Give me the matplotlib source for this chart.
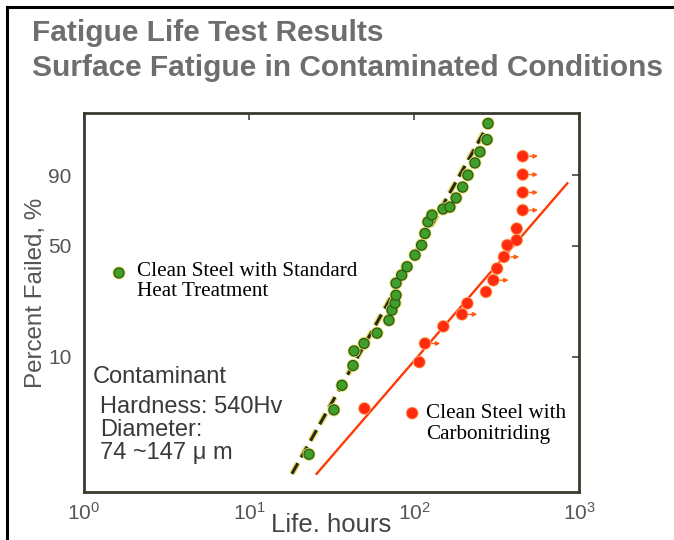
import numpy as np
import matplotlib
matplotlib.use("Agg")
import matplotlib.pyplot as plt
import matplotlib.patheffects as pe
from matplotlib.lines import Line2D

plt.rcParams['font.family'] = ['Liberation Sans', 'DejaVu Sans']
plt.rcParams['mathtext.fontset'] = 'custom'
plt.rcParams['mathtext.rm'] = 'Liberation Sans'
plt.rcParams['mathtext.it'] = 'Liberation Sans:italic'

# ---- data ----
title_lines = ["Fatigue Life Test Results", "Surface Fatigue in Contaminated Conditions"]

green_life = [23.1, 32.7, 36.6, 42.7, 43.3, 49.8, 59.7, 70.5, 73.5, 76.7, 77.8, 77.8,
              84.2, 90.7, 101.4, 111.1, 116.6, 121.6, 128.5, 150, 165, 180, 197, 212,
              234, 251, 277, 281]
green_pct = [2.0, 4.2, 6.3, 8.7, 11.0, 12.4, 14.6, 17.8, 20.8, 23.1, 25.9, 30.8,
             34.4, 38.5, 44.7, 50.4, 57.5, 64.7, 68.9, 72.6, 73.8, 79.0, 84.7, 90.0,
             94.1, 96.7, 98.5, 99.6]
green_fit_life = [18.2, 295.7]
green_fit_pct = [1.44, 99.76]

red_life = [50.1, 107.7, 150.6, 210.4, 273, 318.6, 367.6, 419, 419]
red_pct = [4.3, 9.2, 16.2, 23.0, 27.2, 37.6, 50.4, 53.4, 60.5]
red_susp_life = [116.6, 195.4, 302.6, 351, 456, 456, 456, 456]
red_susp_pct = [12.4, 19.5, 32.1, 43.7, 71.9, 82.0, 90.2, 95.8]
red_fit_life = [25.7, 849.5]
red_fit_pct = [1.44, 86.5]

y_ticks = [10, 50, 90]
x_ticks = [1, 10, 100, 1000]

legend_green = "Clean Steel with Standard\nHeat Treatment"
legend_red = "Clean Steel with\nCarbonitriding"
note_lines = ["Contaminant", "Hardness: 540Hv", "Diameter:", "74 ~147 \u03bc m"]

# ---- figure ----
fig = plt.figure(figsize=(6.74, 5.40), dpi=100)
fig.add_artist(Line2D([7/674, 7/674], [0, 1 - 7/540], color='black', lw=2.2, transform=fig.transFigure))
fig.add_artist(Line2D([7/674, 1], [1 - 7/540, 1 - 7/540], color='black', lw=2.2, transform=fig.transFigure))

ax = fig.add_axes([84/674, 1 - 492/540, 495/674, 379/540])


def fwd(p):
    p = np.clip(np.asarray(p, dtype=float), 1e-6, 100 - 1e-9)
    return np.log(-np.log(1 - p / 100.0))


def inv(w):
    return 100.0 * (1 - np.exp(-np.exp(np.asarray(w, dtype=float))))


ax.set_xscale('log')
ax.set_yscale('function', functions=(fwd, inv))
ax.set_xlim(1, 1000)
ax.set_ylim(1.06, 99.864)

halo_y = [pe.Stroke(linewidth=4.2, foreground='#e6dc6a'), pe.Normal()]
ax.plot(green_fit_life, green_fit_pct, color='#2a2a12', lw=2.2, ls=(0, (4, 2.2)),
        path_effects=halo_y, zorder=2)
ax.plot(red_fit_life, red_fit_pct, color='#ff3a05', lw=1.7, zorder=2)

green_halo = [pe.Stroke(linewidth=2.2, foreground='#e8e070'), pe.Normal()]
ax.plot(green_life, green_pct, ls='none', marker='o', ms=7.2, mfc='#3f9e2c', mec='#2c5a14',
        mew=0.9, path_effects=green_halo, zorder=3)

red_halo = [pe.Stroke(linewidth=1.8, foreground='#ffb070'), pe.Normal()]
ax.plot(red_life, red_pct, ls='none', marker='o', ms=7.4, mfc='#ff2a10', mec='#ff3a10',
        mew=0.6, path_effects=red_halo, zorder=3)
ax.plot(red_susp_life, red_susp_pct, ls='none', marker='o', ms=7.4, mfc='#ff2a10', mec='#ff3a10',
        mew=0.6, path_effects=red_halo, zorder=3)
for xv, yv in zip(red_susp_life, red_susp_pct):
    ax.annotate('', xy=(xv, yv), xycoords='data', xytext=(11, 0), textcoords='offset points',
                arrowprops=dict(arrowstyle='<|-', color='#ff5a10', lw=1.0, shrinkA=0, shrinkB=5,
                                mutation_scale=6), zorder=3)

# legend-like annotations
ax.plot([0.0707], [0.578], transform=ax.transAxes, ls='none', marker='o', ms=7.2,
        mfc='#3f9e2c', mec='#2c5a14', mew=0.9, path_effects=green_halo, clip_on=False)
ax.text(0.107, 0.555, legend_green, transform=ax.transAxes, family='Liberation Serif',
        fontsize=15.2, va='center', ha='left', linespacing=1.1, color='black')
ax.plot([0.663], [0.208], transform=ax.transAxes, ls='none', marker='o', ms=7.4,
        mfc='#ff2a10', mec='#ff3a10', mew=0.6, path_effects=red_halo)
ax.text(0.691, 0.179, legend_red, transform=ax.transAxes, family='Liberation Serif',
        fontsize=15.2, va='center', ha='left', linespacing=1.1, color='black')

note_pos = [(0.018, 0.303), (0.032, 0.225), (0.032, 0.164), (0.032, 0.103)]
for (tx, ty), s in zip(note_pos, note_lines):
    ax.text(tx, ty, s, transform=ax.transAxes, fontsize=17, color='#3a3a3a',
            va='center', ha='left')

# axes styling
ax.set_yticks(y_ticks)
ax.set_yticklabels([str(v) for v in y_ticks])
ax.set_xticks(x_ticks)
ax.xaxis.set_minor_locator(matplotlib.ticker.NullLocator())
ax.yaxis.set_minor_locator(matplotlib.ticker.NullLocator())
ax.tick_params(axis='both', which='major', direction='in', length=5, width=1.2, color='#444444',
               labelsize=15, labelcolor='#555555')
ax.tick_params(axis='x', bottom=False, top=True, pad=7)
ax.tick_params(axis='y', left=False, right=True, pad=9)
for s in ax.spines.values():
    s.set_color('#3a3a30')
    s.set_linewidth(2.0)

ax.set_ylabel("Percent Failed, %", fontsize=17.4, color='#555555', va='center')
ax.yaxis.set_label_coords(-0.097, 0.525)
ax.set_xlabel("Life. hours", fontsize=18.5, color='#444444', labelpad=-8)

fig.text(32/674, 1 - 33/540, title_lines[0], fontsize=21.5, fontweight='bold', color='#6e6e6e',
         va='center', ha='left')
fig.text(32/674, 1 - 68/540, title_lines[1], fontsize=21.5, fontweight='bold', color='#6e6e6e',
         va='center', ha='left')

fig.savefig("out.png", dpi=100)
